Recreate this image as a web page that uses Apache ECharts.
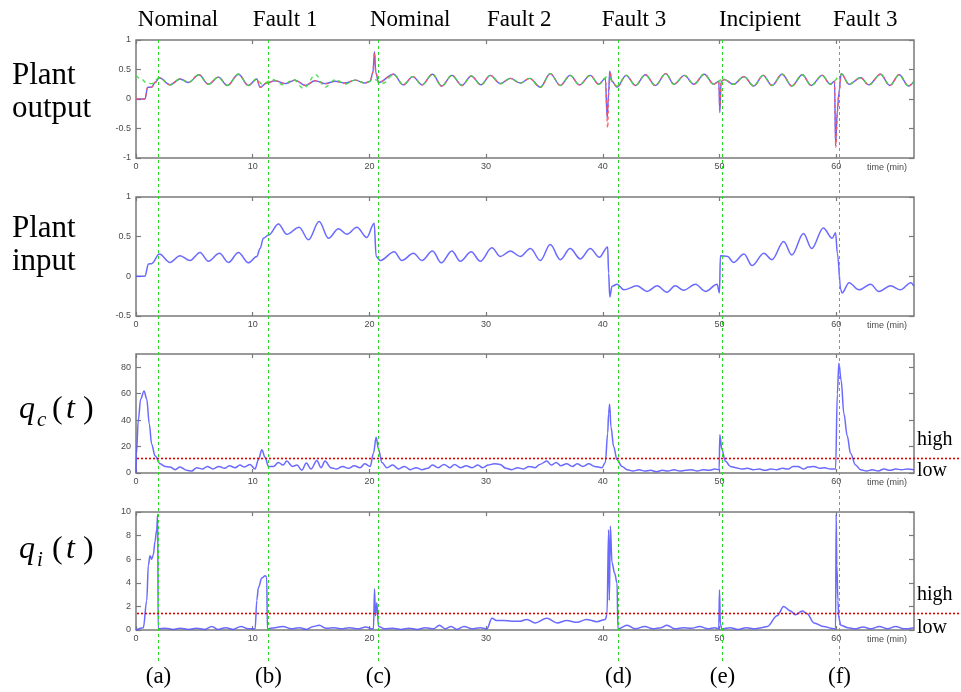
<!DOCTYPE html>
<html><head><meta charset="utf-8">
<script src="https://cdn.jsdelivr.net/npm/echarts@6/dist/echarts.min.js"></script>
<style>html,body{margin:0;padding:0;background:#fff}#c{width:961px;height:692px}</style>
</head><body><div id="c"></div>
<script>
// ---------- data ----------
const xTicks = [0, 10, 20, 30, 40, 50, 60];
const outputTicks = [-1, -0.5, 0, 0.5, 1];
const inputTicks = [-0.5, 0, 0.5, 1];
const qcTicks = [0, 20, 40, 60, 80];
const qiTicks = [0, 2, 4, 6, 8, 10];

const phaseLabels = ['Nominal', 'Fault 1', 'Nominal', 'Fault 2', 'Fault 3', 'Incipient', 'Fault 3'];
const phaseCenters = [3.6, 12.78, 23.5, 32.85, 42.67, 53.47, 62.5];
const eventLabels = ['(a)', '(b)', '(c)', '(d)', '(e)', '(f)'];
const eventTimes = [1.86, 11.35, 20.73, 41.3, 50.2, 60.26];
const qcThreshold = 11.6;
const qiThreshold = 1.41;

const outputBlue = [[0,0],[0.77,0],[1.0,0.2],[1.34,0.2],[1.63,0.28],[2.0,0.36],[2.92,0.24],[3.77,0.34],[4.49,0.28],[5.4,0.41],[6.2,0.25],[7.06,0.37],[7.83,0.23],[8.78,0.42],[9.63,0.23],[10.35,0.34],[10.63,0.2],[11.2,0.27],[11.92,0.31],[12.78,0.26],[13.64,0.32],[14.5,0.23],[15.35,0.31],[16.2,0.26],[17.07,0.3],[17.92,0.27],[18.78,0.32],[19.64,0.27],[20.07,0.3],[20.3,0.45],[20.44,0.8],[20.55,0.45],[20.78,0.28],[22.07,0.42],[22.9,0.24],[23.73,0.38],[24.5,0.24],[25.41,0.42],[26.2,0.22],[27.07,0.4],[27.93,0.23],[28.73,0.39],[29.56,0.24],[30.36,0.4],[31.22,0.26],[32.08,0.35],[32.93,0.27],[33.73,0.35],[34.65,0.2],[35.5,0.43],[36.36,0.23],[37.2,0.4],[38.0,0.24],[38.93,0.4],[39.65,0.25],[40.22,0.35],[40.38,-0.33],[40.5,0.1],[40.59,0.47],[40.79,0.3],[41.22,0.2],[42.0,0.4],[42.8,0.23],[43.65,0.41],[44.5,0.23],[45.4,0.43],[46.1,0.25],[47.0,0.4],[47.8,0.25],[48.7,0.42],[49.5,0.25],[49.94,0.3],[50.03,-0.23],[50.14,0.3],[50.4,0.33],[51.2,0.25],[52.1,0.38],[52.94,0.22],[53.74,0.4],[54.5,0.23],[55.37,0.42],[56.2,0.22],[57.1,0.41],[57.86,0.23],[58.8,0.4],[59.5,0.25],[59.86,0.3],[59.95,-0.79],[60.1,-0.2],[60.23,0.1],[60.43,0.43],[61.1,0.25],[62.1,0.36],[62.8,0.24],[63.8,0.42],[64.6,0.23],[65.4,0.41],[66.2,0.22],[66.66,0.3]];
const outputRed = [[0,0],[0.77,0],[1.0,0.2],[1.34,0.2],[1.63,0.28],[2.0,0.36],[2.92,0.24],[3.77,0.34],[4.49,0.28],[5.4,0.41],[6.2,0.25],[7.06,0.37],[7.83,0.23],[8.78,0.42],[9.63,0.23],[10.35,0.34],[10.63,0.2],[11.2,0.27],[11.92,0.31],[12.78,0.26],[13.64,0.32],[14.5,0.23],[15.35,0.31],[16.2,0.26],[17.07,0.3],[17.92,0.27],[18.78,0.32],[19.64,0.27],[20.07,0.3],[20.3,0.45],[20.44,0.78],[20.55,0.45],[20.78,0.28],[22.07,0.42],[22.9,0.24],[23.73,0.38],[24.5,0.24],[25.41,0.42],[26.2,0.22],[27.07,0.4],[27.93,0.23],[28.73,0.39],[29.56,0.24],[30.36,0.4],[31.22,0.26],[32.08,0.35],[32.93,0.27],[33.73,0.35],[34.65,0.2],[35.5,0.43],[36.36,0.23],[37.2,0.4],[38.0,0.24],[38.93,0.4],[39.65,0.25],[40.22,0.35],[40.42,-0.49],[40.52,0.1],[40.62,0.45],[40.79,0.3],[41.22,0.2],[42.0,0.4],[42.8,0.23],[43.65,0.41],[44.5,0.23],[45.4,0.43],[46.1,0.25],[47.0,0.4],[47.8,0.25],[48.7,0.42],[49.5,0.25],[49.94,0.3],[50.03,-0.15],[50.14,0.3],[50.4,0.33],[51.2,0.25],[52.1,0.38],[52.94,0.22],[53.74,0.4],[54.5,0.23],[55.37,0.42],[56.2,0.22],[57.1,0.41],[57.86,0.23],[58.8,0.4],[59.5,0.25],[59.86,0.3],[59.97,-0.82],[60.12,-0.2],[60.25,0.1],[60.43,0.43],[61.1,0.25],[62.1,0.36],[62.8,0.24],[63.8,0.42],[64.6,0.23],[65.4,0.41],[66.2,0.22],[66.66,0.3]];
const outputGreen = [[0,0.4],[0.5,0.33],[0.9,0.27],[1.34,0.26],[2.0,0.36],[2.92,0.24],[3.77,0.34],[4.49,0.28],[5.4,0.41],[6.2,0.25],[7.06,0.37],[7.83,0.23],[8.78,0.42],[9.63,0.23],[10.35,0.34],[10.8,0.25],[11.7,0.33],[12.6,0.24],[13.5,0.33],[14.35,0.18],[15.4,0.41],[16.2,0.2],[17.1,0.33],[17.9,0.25],[18.78,0.32],[19.64,0.27],[20.4,0.33],[21.2,0.27],[22.07,0.42],[22.9,0.24],[23.73,0.38],[24.5,0.24],[25.41,0.42],[26.2,0.22],[27.07,0.4],[27.93,0.23],[28.73,0.39],[29.56,0.24],[30.36,0.4],[31.22,0.26],[32.08,0.35],[32.93,0.27],[33.73,0.35],[34.65,0.2],[35.5,0.43],[36.36,0.23],[37.2,0.4],[38.0,0.24],[38.93,0.4],[39.65,0.25],[40.4,0.38],[41.22,0.22],[42.0,0.4],[42.8,0.23],[43.65,0.41],[44.5,0.23],[45.4,0.43],[46.1,0.25],[47.0,0.4],[47.8,0.25],[48.7,0.42],[49.5,0.25],[50.3,0.34],[51.2,0.25],[52.1,0.38],[52.94,0.22],[53.74,0.4],[54.5,0.23],[55.37,0.42],[56.2,0.22],[57.1,0.41],[57.86,0.23],[58.8,0.4],[59.5,0.25],[60.5,0.42],[61.1,0.25],[62.1,0.36],[62.8,0.24],[63.8,0.42],[64.6,0.23],[65.4,0.41],[66.2,0.22],[66.66,0.3]];

const inputBlue = [[0,0],[0.77,0],[1.06,0.155],[1.34,0.16],[2.0,0.28],[2.92,0.175],[3.77,0.26],[4.63,0.2],[5.49,0.3],[6.2,0.19],[7.15,0.29],[7.92,0.175],[8.78,0.3],[9.63,0.17],[10.35,0.25],[10.63,0.35],[10.92,0.48],[11.35,0.52],[12.21,0.66],[12.92,0.53],[13.98,0.62],[14.78,0.46],[15.69,0.69],[16.5,0.48],[17.35,0.6],[18.07,0.53],[18.93,0.62],[19.78,0.49],[20.41,0.67],[20.58,0.25],[20.93,0.2],[22.13,0.31],[22.78,0.2],[23.78,0.29],[24.5,0.2],[25.41,0.32],[26.16,0.17],[27.07,0.32],[27.79,0.19],[28.73,0.31],[29.5,0.19],[30.5,0.36],[31.22,0.25],[32.08,0.32],[32.93,0.25],[33.8,0.35],[34.65,0.2],[35.5,0.4],[36.36,0.21],[37.2,0.35],[38.08,0.22],[38.93,0.35],[39.7,0.24],[40.42,0.37],[40.5,0.04],[40.6,-0.26],[40.79,-0.125],[41.22,-0.1],[41.8,-0.17],[42.93,-0.12],[43.8,-0.19],[44.65,-0.12],[45.5,-0.2],[46.2,-0.12],[46.94,-0.175],[47.94,-0.1],[48.8,-0.19],[49.8,-0.1],[50.0,-0.21],[50.08,0.26],[50.7,0.25],[51.2,0.175],[52.1,0.28],[52.8,0.135],[53.8,0.29],[54.5,0.21],[55.5,0.44],[56.2,0.27],[57.2,0.54],[57.9,0.35],[58.9,0.61],[59.66,0.48],[59.95,0.55],[60.1,0.29],[60.4,-0.17],[60.5,-0.21],[61.1,-0.08],[61.95,-0.17],[62.95,-0.1],[63.66,-0.19],[64.66,-0.12],[65.5,-0.17],[66.4,-0.08],[66.66,-0.125]];

const qcValues = [[0,0],[0.03,14],[0.2,40],[0.4,56],[0.69,62],[0.92,56],[1.14,37],[1.34,22],[1.63,13],[2.06,7],[2.49,5],[2.92,4.5],[3.35,2.5],[3.77,4.5],[4.35,2],[4.77,1.5],[5.2,4],[5.7,3],[6.1,5],[6.6,3],[7.1,5],[7.6,3.5],[8.0,5.5],[8.5,4],[8.9,6],[9.3,4.5],[9.78,6.5],[10.2,3],[10.49,10],[10.78,17.5],[11.06,12],[11.35,5],[11.78,5],[12.2,8],[12.6,6],[12.92,9],[13.4,5],[13.8,6],[14.2,2],[14.6,7.5],[15.0,3],[15.5,9.5],[15.85,4],[16.2,9],[16.7,4],[17.2,3],[17.7,5],[18.2,3.5],[18.7,5.5],[19.2,4],[19.6,7],[20.07,5],[20.35,15],[20.58,27],[20.78,18],[21.07,8],[21.5,4],[22.0,6],[22.5,3],[23.0,5],[23.5,2.5],[24.0,4],[24.5,2.5],[25.0,3.5],[25.4,6],[25.9,4],[26.4,6.5],[26.9,4],[27.3,6.5],[27.8,4],[28.3,5.5],[28.8,4],[29.3,6],[29.7,4],[30.2,6],[30.7,7],[31.2,6.5],[31.7,3.5],[32.2,2.5],[32.7,4],[33.2,3],[33.7,5],[34.2,4],[34.6,6.5],[35.2,9],[35.6,6],[36.0,8],[36.4,5.5],[36.9,7],[37.4,5],[37.8,7],[38.3,5],[38.8,7],[39.3,5],[39.93,4],[40.22,8],[40.42,30],[40.5,45],[40.59,52],[40.7,35],[40.93,20],[41.22,10],[41.65,5],[42.08,2.5],[42.6,1.5],[43.1,2.5],[43.6,1.5],[44.1,2],[44.6,1],[45.1,2],[45.6,1.5],[46.1,2.5],[46.6,1.5],[47.1,2],[47.6,2.5],[48.1,1.5],[48.6,2.5],[49.1,2],[49.6,3],[49.97,2.5],[50.03,29],[50.2,18],[50.5,9],[50.94,5],[51.4,4],[51.9,3],[52.4,3.5],[52.9,2.5],[53.4,3],[53.9,2],[54.4,3],[54.9,2.5],[55.4,3.5],[55.9,3],[56.3,5],[56.7,5],[57.2,3],[57.6,4.5],[58.1,5],[58.6,3.5],[59.0,4],[59.5,3],[59.95,3],[60.1,60],[60.23,83],[60.43,70],[60.66,45],[60.95,28],[61.23,15],[61.66,6],[62.09,2.5],[62.6,1.5],[63.1,2.5],[63.6,1.5],[64.1,3],[64.6,2],[65.1,3],[65.6,2.5],[66.1,3],[66.66,2.5]];

const qiValues = [[0,0],[0.63,0.2],[0.92,2.5],[1.06,5.5],[1.2,6.3],[1.34,6.0],[1.49,6.4],[1.63,7.5],[1.77,8.5],[1.86,9.8],[1.9,0.1],[2.5,0.15],[3.2,0.05],[3.8,0.15],[4.5,0.05],[5.2,0.15],[5.9,0.05],[6.5,0.3],[7.0,0.05],[7.7,0.2],[8.3,0.05],[9.0,0.3],[9.6,0.1],[10.21,0.1],[10.35,2.5],[10.49,3.6],[10.78,4.4],[11.06,4.6],[11.2,4.5],[11.26,0.1],[11.9,0.2],[12.6,0.3],[13.3,0.1],[14.0,0.2],[14.6,0.05],[15.2,0.3],[15.7,0.4],[16.3,0.15],[17.0,0.2],[17.6,0.1],[18.3,0.2],[19.0,0.1],[19.7,0.25],[20.2,0.1],[20.35,0.1],[20.44,3.5],[20.52,1.2],[20.64,2.3],[20.78,0.3],[21.3,0.1],[22.0,0.15],[22.7,0.05],[23.4,0.15],[24.1,0.05],[24.8,0.2],[25.5,0.1],[26.0,0.4],[26.5,0.1],[27.0,0.3],[27.5,0.05],[28.1,0.3],[28.8,0.1],[29.5,0.2],[30.07,0.1],[30.5,1.0],[30.9,0.8],[31.5,0.8],[32.2,0.75],[32.93,0.75],[33.5,0.9],[34.2,0.6],[35.2,1.0],[36.1,0.6],[36.9,0.8],[37.8,0.65],[38.6,0.9],[39.5,0.7],[40.22,0.9],[40.36,1.3],[40.5,8.5],[40.56,2.5],[40.65,8.8],[40.79,5.7],[41.02,4.8],[41.22,4.0],[41.3,0.1],[42.08,0.4],[42.8,0.1],[43.6,0.3],[44.3,0.1],[45.0,0.2],[45.5,0.4],[46.2,0.1],[46.9,0.2],[47.6,0.15],[48.3,0.3],[49.0,0.1],[49.6,0.2],[49.94,0.1],[50.0,3.4],[50.08,0.5],[50.2,0.1],[50.9,0.2],[51.6,0.05],[52.3,0.2],[53.0,0.1],[53.6,0.2],[54.1,0.3],[54.94,1.2],[55.5,2.0],[56.1,1.6],[56.5,1.3],[57.1,1.6],[57.5,1.4],[58.1,0.6],[58.9,0.3],[59.8,0.1],[59.95,0.1],[60.0,9.8],[60.06,5.5],[60.15,2.5],[60.23,1.0],[60.4,0.4],[61.0,0.2],[61.6,0.1],[62.3,0.25],[63.0,0.1],[63.7,0.3],[64.4,0.1],[65.1,0.3],[65.8,0.1],[66.66,0.2]];

// ---------- chart ----------
const chart = echarts.init(document.getElementById('c'), null, {renderer: 'canvas'});
const X_MAX = 66.67;
const panels = [
  {top: 40, height: 118, min: -1, max: 1, ticks: outputTicks},
  {top: 197, height: 119, min: -0.5, max: 1, ticks: inputTicks},
  {top: 354, height: 119, min: 0, max: 90, ticks: qcTicks},
  {top: 512, height: 118, min: 0, max: 10, ticks: qiTicks}
];
const FRAME = '#7a7a7a';
const LABEL = '#4a4a4a';
const grids = [], xAxes = [], yAxes = [];
panels.forEach((p, i) => {
  grids.push({left: 136, width: 778, top: p.top, height: p.height, show: true, borderColor: FRAME, borderWidth: 1.5, backgroundColor: 'transparent'});
  ['bottom', 'top'].forEach(pos => {
    xAxes.push({gridIndex: i, type: 'value', min: 0, max: X_MAX, position: pos,
      axisLine: {show: false, onZero: false}, splitLine: {show: false},
      axisTick: {inside: true, length: 4, customValues: xTicks, lineStyle: {color: FRAME, width: 1.2}},
      axisLabel: {show: pos === 'bottom', customValues: xTicks, fontSize: 9, color: LABEL, margin: 4, fontFamily: 'Arial'}});
  });
  ['left', 'right'].forEach(pos => {
    yAxes.push({gridIndex: i, type: 'value', min: p.min, max: p.max, position: pos,
      axisLine: {show: false, onZero: false}, splitLine: {show: false},
      axisTick: {inside: true, length: 5, customValues: p.ticks, lineStyle: {color: FRAME, width: 1.2}},
      axisLabel: {show: pos === 'left', customValues: p.ticks, fontSize: 9, color: LABEL, margin: 5, fontFamily: 'Arial'}});
  });
});
function line(i, data, color, width, dash, z) {
  return {type: 'line', xAxisIndex: 2 * i, yAxisIndex: 2 * i, data: data, showSymbol: false,
    smooth: 0.35, smoothMonotone: 'x', z: z || 2, silent: true, animation: false,
    lineStyle: {color: color, width: width, type: dash || 'solid', opacity: 0.9}};
}
const series = [
  line(0, outputBlue, '#5050ff', 1.4, 'solid', 2),
  line(0, outputRed, '#ff5a5a', 1.4, [3, 3], 3),
  line(0, outputGreen, '#3cdc3c', 1.4, [4, 4], 4),
  line(1, inputBlue, '#5a5aff', 1.5),
  line(2, qcValues, '#5a5aff', 1.5),
  line(3, qiValues, '#5a5aff', 1.5)
];
chart.setOption({animation: false, grid: grids, xAxis: xAxes, yAxis: yAxes, series: series});

// ---------- overlay graphics ----------
const px = t => chart.convertToPixel({xAxisIndex: 0}, t);
const py = (i, v) => chart.convertToPixel({yAxisIndex: 2 * i}, v);
const SERIF = '"Liberation Serif", "Times New Roman", serif';
const g = [];
eventTimes.forEach((t, k) => {
  const x = Math.round(px(t)) + 0.5;
  g.push({type: 'line', shape: {x1: x, y1: 40, x2: x, y2: 662}, z: 10, silent: true,
    style: {stroke: '#22dd22', lineWidth: 1, lineDash: [3, 3]}});
  g.push({type: 'text', x: x, y: 677, z: 10, silent: true,
    style: {text: eventLabels[k], fontSize: 23, fontFamily: SERIF, fill: '#000', align: 'center', verticalAlign: 'middle'}});
});
phaseLabels.forEach((s, k) => {
  g.push({type: 'text', x: px(phaseCenters[k]), y: 20, silent: true,
    style: {text: s, fontSize: 23, fontFamily: SERIF, fill: '#000', align: 'center', verticalAlign: 'middle'}});
});
[[2, qcThreshold], [3, qiThreshold]].forEach(([i, v]) => {
  const y = Math.round(py(i, v)) + 0.5;
  g.push({type: 'line', shape: {x1: 137, y1: y, x2: 961, y2: y}, z: 10, silent: true,
    style: {stroke: '#e00000', lineWidth: 1.6, lineDash: [2, 2]}});
  g.push({type: 'text', x: 917, y: y - 19, silent: true,
    style: {text: 'high', fontSize: 20, fontFamily: SERIF, fill: '#000', align: 'left', verticalAlign: 'middle'}});
  g.push({type: 'text', x: 917, y: py(i, 0) - 2, silent: true,
    style: {text: 'low', fontSize: 20, fontFamily: SERIF, fill: '#000', align: 'left', verticalAlign: 'middle'}});
});
panels.forEach((p, i) => {
  g.push({type: 'text', x: 907, y: p.top + p.height + 10, silent: true,
    style: {text: 'time (min)', fontSize: 9, fontFamily: 'Arial', fill: LABEL, align: 'right', verticalAlign: 'middle'}});
});
g.push({type: 'text', x: 12, y: 92, silent: true,
  style: {text: 'Plant\noutput', fontSize: 31, lineHeight: 33, fontFamily: SERIF, fill: '#000', align: 'left', verticalAlign: 'middle'}});
g.push({type: 'text', x: 12, y: 245, silent: true,
  style: {text: 'Plant\ninput', fontSize: 31, lineHeight: 33, fontFamily: SERIF, fill: '#000', align: 'left', verticalAlign: 'middle'}});
function qLabel(sub, y) {
  const t = (txt, x, yy, size, italic) => g.push({type: 'text', x: x, y: yy, silent: true,
    style: {text: txt, fontSize: size, fontStyle: italic ? 'italic' : 'normal', fontFamily: SERIF, fill: '#000', align: 'left', verticalAlign: 'middle'}});
  t('q', 19, y, 32, true);
  t(sub, 37, y + 10, 21, true);
  t('(', 52, y, 32, false);
  t('t', 66, y, 32, true);
  t(')', 83, y, 32, false);
}
qLabel('c', 410);
qLabel('i', 550);
chart.setOption({graphic: g});
</script>
</body></html>
